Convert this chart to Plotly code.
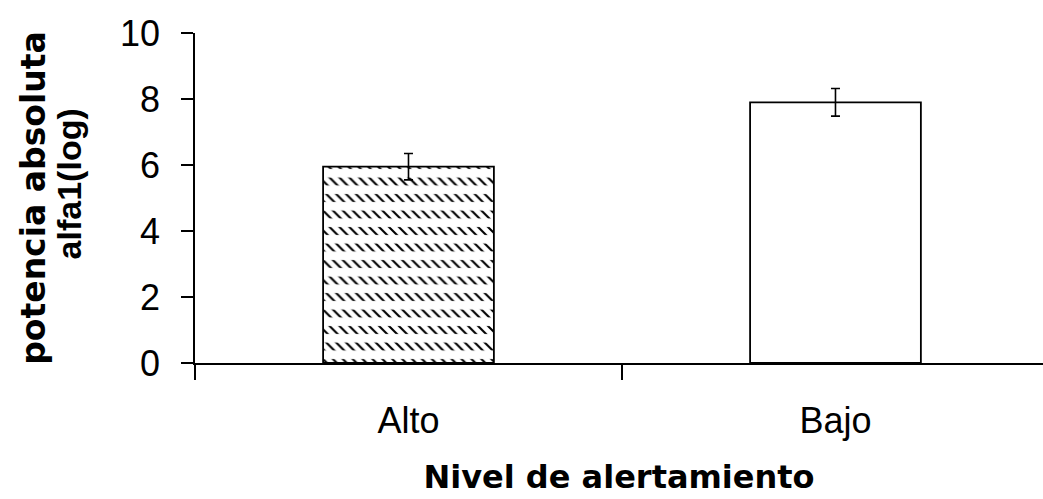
import plotly.graph_objects as go

categories = ["Alto", "Bajo"]
means = [5.95, 7.9]
errors = [0.4, 0.42]
y_ticks = [0, 2, 4, 6, 8, 10]

fig = go.Figure()

# hatched fill layer
fig.add_trace(go.Bar(
    x=categories, y=means, width=0.40,
    marker=dict(color="white", line=dict(width=0),
                pattern=dict(shape=["\\", ""], fgcolor="black", bgcolor="white",
                             size=7, solidity=0.3, fillmode="replace")),
    showlegend=False, hoverinfo="skip"))
# white horizontal stripes to break the hatching into rows of dashes
fig.add_trace(go.Bar(
    x=categories, y=means, width=0.40,
    marker=dict(color="rgba(0,0,0,0)", line=dict(width=0),
                pattern=dict(shape=["-", ""], fgcolor="white", bgcolor="rgba(0,0,0,0)",
                             size=16.5, solidity=0.52, fillmode="replace")),
    showlegend=False, hoverinfo="skip"))
# outline + error bars
fig.add_trace(go.Bar(
    x=categories, y=means, width=0.40,
    marker=dict(color="rgba(0,0,0,0)", line=dict(color="black", width=1.8)),
    error_y=dict(type="data", array=errors, visible=True, color="black",
                 thickness=1.6, width=4.5),
    showlegend=False))

fig.update_layout(
    barmode="overlay",
    width=1043, height=499,
    margin=dict(l=195, r=0, t=33, b=136),
    paper_bgcolor="white", plot_bgcolor="white",
    font=dict(family="Liberation Sans, Arial, sans-serif", color="black"),
    xaxis=dict(
        type="category", range=[-0.5, 1.486],
        showline=True, linecolor="black", linewidth=1.5,
        ticks="outside", tickson="boundaries", ticklen=15, tickwidth=1.5, tickcolor="black",
        tickfont=dict(size=36, family="Liberation Sans, Arial, sans-serif"),
        ticklabelstandoff=25,
        showgrid=False, zeroline=False,
        title=dict(text="<b>Nivel de alertamiento</b>",
                   font=dict(size=32, family="DejaVu Sans, sans-serif"),
                   standoff=26),
    ),
    yaxis=dict(
        range=[0, 10], tickvals=y_ticks,
        showline=True, linecolor="black", linewidth=1.5,
        ticks="outside", ticklen=12, tickwidth=1.5, tickcolor="black",
        tickfont=dict(size=36, family="Liberation Sans, Arial, sans-serif"),
        ticklabelstandoff=14,
        showgrid=False, zeroline=False,
        title=dict(text="<b><span style=\"font-size:33px\">potencia absoluta</span></b><br>"
                        "<b><span style=\"font-family:'Liberation Sans';font-size:34px\">&nbsp;&nbsp;&nbsp;alfa1(log)</span></b>",
                   font=dict(size=28, family="DejaVu Sans, sans-serif"),
                   standoff=30),
    ),
)

fig.write_html("out.html")
